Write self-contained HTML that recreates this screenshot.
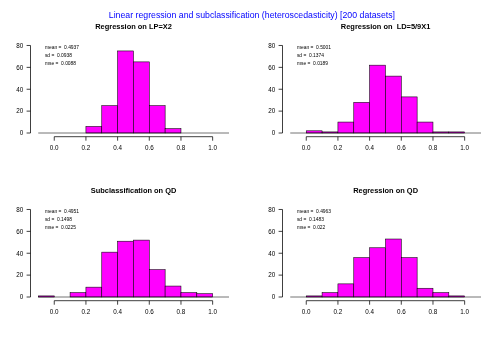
<!DOCTYPE html>
<html><head><meta charset="utf-8"><title>Histograms</title>
<style>html,body{margin:0;padding:0;background:#fff}body{width:504px;height:350px;overflow:hidden;font-family:"Liberation Sans",sans-serif}svg text{font-family:"Liberation Sans",sans-serif}svg{will-change:transform}</style></head>
<body>
<svg width="504" height="350" viewBox="0 0 504 350" style="display:block">
<rect width="504" height="350" fill="#fff"/>
<text x="251.9" y="18.2" text-anchor="middle" font-size="8.73" fill="#0000ff" textLength="286.2" lengthAdjust="spacingAndGlyphs">Linear regression and subclassification (heteroscedasticity) [200 datasets]</text>
<g transform="translate(0,0)">
<text x="133.6" y="28.5" text-anchor="middle" font-size="7.45" font-weight="bold" fill="#000" xml:space="preserve">Regression on LP=X2</text>
<rect x="85.93" y="126.44" width="15.84" height="6.56" fill="#ff00ff" stroke="#000" stroke-width="0.55"/>
<rect x="101.77" y="105.65" width="15.84" height="27.35" fill="#ff00ff" stroke="#000" stroke-width="0.55"/>
<rect x="117.61" y="50.95" width="15.84" height="82.05" fill="#ff00ff" stroke="#000" stroke-width="0.55"/>
<rect x="133.45" y="61.89" width="15.84" height="71.11" fill="#ff00ff" stroke="#000" stroke-width="0.55"/>
<rect x="149.29" y="105.65" width="15.84" height="27.35" fill="#ff00ff" stroke="#000" stroke-width="0.55"/>
<rect x="165.13" y="128.62" width="15.84" height="4.38" fill="#ff00ff" stroke="#000" stroke-width="0.55"/>
<line x1="38.25" y1="133.0" x2="229" y2="133.0" stroke="#000" stroke-width="0.55"/>
<path d="M26.6 133.0H30.5V45.48H26.6" fill="none" stroke="#000" stroke-width="0.75"/>
<line x1="26.6" y1="111.12" x2="30.5" y2="111.12" stroke="#000" stroke-width="0.75"/>
<line x1="26.6" y1="89.24" x2="30.5" y2="89.24" stroke="#000" stroke-width="0.75"/>
<line x1="26.6" y1="67.36" x2="30.5" y2="67.36" stroke="#000" stroke-width="0.75"/>
<text x="23.2" y="135.30" text-anchor="end" font-size="6.3" fill="#000">0</text>
<text x="23.2" y="113.42" text-anchor="end" font-size="6.3" fill="#000">20</text>
<text x="23.2" y="91.54" text-anchor="end" font-size="6.3" fill="#000">40</text>
<text x="23.2" y="69.66" text-anchor="end" font-size="6.3" fill="#000">60</text>
<text x="23.2" y="47.78" text-anchor="end" font-size="6.3" fill="#000">80</text>
<path d="M54.25 140.7V136.7H212.65V140.7" fill="none" stroke="#000" stroke-width="0.75"/>
<line x1="85.93" y1="136.7" x2="85.93" y2="140.7" stroke="#000" stroke-width="0.75"/>
<line x1="117.61" y1="136.7" x2="117.61" y2="140.7" stroke="#000" stroke-width="0.75"/>
<line x1="149.29" y1="136.7" x2="149.29" y2="140.7" stroke="#000" stroke-width="0.75"/>
<line x1="180.97" y1="136.7" x2="180.97" y2="140.7" stroke="#000" stroke-width="0.75"/>
<text x="54.25" y="150.4" text-anchor="middle" font-size="6.3" fill="#000">0.0</text>
<text x="85.93" y="150.4" text-anchor="middle" font-size="6.3" fill="#000">0.2</text>
<text x="117.61" y="150.4" text-anchor="middle" font-size="6.3" fill="#000">0.4</text>
<text x="149.29" y="150.4" text-anchor="middle" font-size="6.3" fill="#000">0.6</text>
<text x="180.97" y="150.4" text-anchor="middle" font-size="6.3" fill="#000">0.8</text>
<text x="212.65" y="150.4" text-anchor="middle" font-size="6.3" fill="#000">1.0</text>
<text x="44.9" y="49.00" font-size="4.9" fill="#000" xml:space="preserve">mean =  0.4937</text>
<text x="44.9" y="56.85" font-size="4.9" fill="#000" xml:space="preserve">sd =  0.0938</text>
<text x="44.9" y="64.70" font-size="4.9" fill="#000" xml:space="preserve">mse =  0.0088</text>
</g>
<g transform="translate(252,0)">
<text x="133.6" y="28.5" text-anchor="middle" font-size="7.45" font-weight="bold" fill="#000" xml:space="preserve">Regression on  LD=5/9X1</text>
<rect x="54.25" y="130.81" width="15.84" height="2.19" fill="#ff00ff" stroke="#000" stroke-width="0.55"/>
<rect x="70.09" y="131.91" width="15.84" height="1.09" fill="#ff00ff" stroke="#000" stroke-width="0.55"/>
<rect x="85.93" y="122.06" width="15.84" height="10.94" fill="#ff00ff" stroke="#000" stroke-width="0.55"/>
<rect x="101.77" y="102.37" width="15.84" height="30.63" fill="#ff00ff" stroke="#000" stroke-width="0.55"/>
<rect x="117.61" y="65.17" width="15.84" height="67.83" fill="#ff00ff" stroke="#000" stroke-width="0.55"/>
<rect x="133.45" y="76.11" width="15.84" height="56.89" fill="#ff00ff" stroke="#000" stroke-width="0.55"/>
<rect x="149.29" y="96.90" width="15.84" height="36.10" fill="#ff00ff" stroke="#000" stroke-width="0.55"/>
<rect x="165.13" y="122.06" width="15.84" height="10.94" fill="#ff00ff" stroke="#000" stroke-width="0.55"/>
<rect x="180.97" y="131.91" width="15.84" height="1.09" fill="#ff00ff" stroke="#000" stroke-width="0.55"/>
<rect x="196.81" y="131.91" width="15.84" height="1.09" fill="#ff00ff" stroke="#000" stroke-width="0.55"/>
<line x1="38.25" y1="133.0" x2="229" y2="133.0" stroke="#000" stroke-width="0.55"/>
<path d="M26.6 133.0H30.5V45.48H26.6" fill="none" stroke="#000" stroke-width="0.75"/>
<line x1="26.6" y1="111.12" x2="30.5" y2="111.12" stroke="#000" stroke-width="0.75"/>
<line x1="26.6" y1="89.24" x2="30.5" y2="89.24" stroke="#000" stroke-width="0.75"/>
<line x1="26.6" y1="67.36" x2="30.5" y2="67.36" stroke="#000" stroke-width="0.75"/>
<text x="23.2" y="135.30" text-anchor="end" font-size="6.3" fill="#000">0</text>
<text x="23.2" y="113.42" text-anchor="end" font-size="6.3" fill="#000">20</text>
<text x="23.2" y="91.54" text-anchor="end" font-size="6.3" fill="#000">40</text>
<text x="23.2" y="69.66" text-anchor="end" font-size="6.3" fill="#000">60</text>
<text x="23.2" y="47.78" text-anchor="end" font-size="6.3" fill="#000">80</text>
<path d="M54.25 140.7V136.7H212.65V140.7" fill="none" stroke="#000" stroke-width="0.75"/>
<line x1="85.93" y1="136.7" x2="85.93" y2="140.7" stroke="#000" stroke-width="0.75"/>
<line x1="117.61" y1="136.7" x2="117.61" y2="140.7" stroke="#000" stroke-width="0.75"/>
<line x1="149.29" y1="136.7" x2="149.29" y2="140.7" stroke="#000" stroke-width="0.75"/>
<line x1="180.97" y1="136.7" x2="180.97" y2="140.7" stroke="#000" stroke-width="0.75"/>
<text x="54.25" y="150.4" text-anchor="middle" font-size="6.3" fill="#000">0.0</text>
<text x="85.93" y="150.4" text-anchor="middle" font-size="6.3" fill="#000">0.2</text>
<text x="117.61" y="150.4" text-anchor="middle" font-size="6.3" fill="#000">0.4</text>
<text x="149.29" y="150.4" text-anchor="middle" font-size="6.3" fill="#000">0.6</text>
<text x="180.97" y="150.4" text-anchor="middle" font-size="6.3" fill="#000">0.8</text>
<text x="212.65" y="150.4" text-anchor="middle" font-size="6.3" fill="#000">1.0</text>
<text x="44.9" y="49.00" font-size="4.9" fill="#000" xml:space="preserve">mean =  0.5001</text>
<text x="44.9" y="56.85" font-size="4.9" fill="#000" xml:space="preserve">sd =  0.1374</text>
<text x="44.9" y="64.70" font-size="4.9" fill="#000" xml:space="preserve">mse =  0.0189</text>
</g>
<g transform="translate(0,164)">
<text x="133.6" y="28.5" text-anchor="middle" font-size="7.45" font-weight="bold" fill="#000" xml:space="preserve">Subclassification on QD</text>
<rect x="38.41" y="131.91" width="15.84" height="1.09" fill="#ff00ff" stroke="#000" stroke-width="0.55"/>
<rect x="70.09" y="128.62" width="15.84" height="4.38" fill="#ff00ff" stroke="#000" stroke-width="0.55"/>
<rect x="85.93" y="123.15" width="15.84" height="9.85" fill="#ff00ff" stroke="#000" stroke-width="0.55"/>
<rect x="101.77" y="88.15" width="15.84" height="44.85" fill="#ff00ff" stroke="#000" stroke-width="0.55"/>
<rect x="117.61" y="77.21" width="15.84" height="55.79" fill="#ff00ff" stroke="#000" stroke-width="0.55"/>
<rect x="133.45" y="76.11" width="15.84" height="56.89" fill="#ff00ff" stroke="#000" stroke-width="0.55"/>
<rect x="149.29" y="105.65" width="15.84" height="27.35" fill="#ff00ff" stroke="#000" stroke-width="0.55"/>
<rect x="165.13" y="122.06" width="15.84" height="10.94" fill="#ff00ff" stroke="#000" stroke-width="0.55"/>
<rect x="180.97" y="128.62" width="15.84" height="4.38" fill="#ff00ff" stroke="#000" stroke-width="0.55"/>
<rect x="196.81" y="129.72" width="15.84" height="3.28" fill="#ff00ff" stroke="#000" stroke-width="0.55"/>
<line x1="38.25" y1="133.0" x2="229" y2="133.0" stroke="#000" stroke-width="0.55"/>
<path d="M26.6 133.0H30.5V45.48H26.6" fill="none" stroke="#000" stroke-width="0.75"/>
<line x1="26.6" y1="111.12" x2="30.5" y2="111.12" stroke="#000" stroke-width="0.75"/>
<line x1="26.6" y1="89.24" x2="30.5" y2="89.24" stroke="#000" stroke-width="0.75"/>
<line x1="26.6" y1="67.36" x2="30.5" y2="67.36" stroke="#000" stroke-width="0.75"/>
<text x="23.2" y="135.30" text-anchor="end" font-size="6.3" fill="#000">0</text>
<text x="23.2" y="113.42" text-anchor="end" font-size="6.3" fill="#000">20</text>
<text x="23.2" y="91.54" text-anchor="end" font-size="6.3" fill="#000">40</text>
<text x="23.2" y="69.66" text-anchor="end" font-size="6.3" fill="#000">60</text>
<text x="23.2" y="47.78" text-anchor="end" font-size="6.3" fill="#000">80</text>
<path d="M54.25 140.7V136.7H212.65V140.7" fill="none" stroke="#000" stroke-width="0.75"/>
<line x1="85.93" y1="136.7" x2="85.93" y2="140.7" stroke="#000" stroke-width="0.75"/>
<line x1="117.61" y1="136.7" x2="117.61" y2="140.7" stroke="#000" stroke-width="0.75"/>
<line x1="149.29" y1="136.7" x2="149.29" y2="140.7" stroke="#000" stroke-width="0.75"/>
<line x1="180.97" y1="136.7" x2="180.97" y2="140.7" stroke="#000" stroke-width="0.75"/>
<text x="54.25" y="150.4" text-anchor="middle" font-size="6.3" fill="#000">0.0</text>
<text x="85.93" y="150.4" text-anchor="middle" font-size="6.3" fill="#000">0.2</text>
<text x="117.61" y="150.4" text-anchor="middle" font-size="6.3" fill="#000">0.4</text>
<text x="149.29" y="150.4" text-anchor="middle" font-size="6.3" fill="#000">0.6</text>
<text x="180.97" y="150.4" text-anchor="middle" font-size="6.3" fill="#000">0.8</text>
<text x="212.65" y="150.4" text-anchor="middle" font-size="6.3" fill="#000">1.0</text>
<text x="44.9" y="49.00" font-size="4.9" fill="#000" xml:space="preserve">mean =  0.4951</text>
<text x="44.9" y="56.85" font-size="4.9" fill="#000" xml:space="preserve">sd =  0.1498</text>
<text x="44.9" y="64.70" font-size="4.9" fill="#000" xml:space="preserve">mse =  0.0225</text>
</g>
<g transform="translate(252,164)">
<text x="133.6" y="28.5" text-anchor="middle" font-size="7.45" font-weight="bold" fill="#000" xml:space="preserve">Regression on QD</text>
<rect x="54.25" y="131.91" width="15.84" height="1.09" fill="#ff00ff" stroke="#000" stroke-width="0.55"/>
<rect x="70.09" y="128.62" width="15.84" height="4.38" fill="#ff00ff" stroke="#000" stroke-width="0.55"/>
<rect x="85.93" y="119.87" width="15.84" height="13.13" fill="#ff00ff" stroke="#000" stroke-width="0.55"/>
<rect x="101.77" y="93.62" width="15.84" height="39.38" fill="#ff00ff" stroke="#000" stroke-width="0.55"/>
<rect x="117.61" y="83.77" width="15.84" height="49.23" fill="#ff00ff" stroke="#000" stroke-width="0.55"/>
<rect x="133.45" y="75.02" width="15.84" height="57.98" fill="#ff00ff" stroke="#000" stroke-width="0.55"/>
<rect x="149.29" y="93.62" width="15.84" height="39.38" fill="#ff00ff" stroke="#000" stroke-width="0.55"/>
<rect x="165.13" y="124.25" width="15.84" height="8.75" fill="#ff00ff" stroke="#000" stroke-width="0.55"/>
<rect x="180.97" y="128.62" width="15.84" height="4.38" fill="#ff00ff" stroke="#000" stroke-width="0.55"/>
<rect x="196.81" y="131.91" width="15.84" height="1.09" fill="#ff00ff" stroke="#000" stroke-width="0.55"/>
<line x1="38.25" y1="133.0" x2="229" y2="133.0" stroke="#000" stroke-width="0.55"/>
<path d="M26.6 133.0H30.5V45.48H26.6" fill="none" stroke="#000" stroke-width="0.75"/>
<line x1="26.6" y1="111.12" x2="30.5" y2="111.12" stroke="#000" stroke-width="0.75"/>
<line x1="26.6" y1="89.24" x2="30.5" y2="89.24" stroke="#000" stroke-width="0.75"/>
<line x1="26.6" y1="67.36" x2="30.5" y2="67.36" stroke="#000" stroke-width="0.75"/>
<text x="23.2" y="135.30" text-anchor="end" font-size="6.3" fill="#000">0</text>
<text x="23.2" y="113.42" text-anchor="end" font-size="6.3" fill="#000">20</text>
<text x="23.2" y="91.54" text-anchor="end" font-size="6.3" fill="#000">40</text>
<text x="23.2" y="69.66" text-anchor="end" font-size="6.3" fill="#000">60</text>
<text x="23.2" y="47.78" text-anchor="end" font-size="6.3" fill="#000">80</text>
<path d="M54.25 140.7V136.7H212.65V140.7" fill="none" stroke="#000" stroke-width="0.75"/>
<line x1="85.93" y1="136.7" x2="85.93" y2="140.7" stroke="#000" stroke-width="0.75"/>
<line x1="117.61" y1="136.7" x2="117.61" y2="140.7" stroke="#000" stroke-width="0.75"/>
<line x1="149.29" y1="136.7" x2="149.29" y2="140.7" stroke="#000" stroke-width="0.75"/>
<line x1="180.97" y1="136.7" x2="180.97" y2="140.7" stroke="#000" stroke-width="0.75"/>
<text x="54.25" y="150.4" text-anchor="middle" font-size="6.3" fill="#000">0.0</text>
<text x="85.93" y="150.4" text-anchor="middle" font-size="6.3" fill="#000">0.2</text>
<text x="117.61" y="150.4" text-anchor="middle" font-size="6.3" fill="#000">0.4</text>
<text x="149.29" y="150.4" text-anchor="middle" font-size="6.3" fill="#000">0.6</text>
<text x="180.97" y="150.4" text-anchor="middle" font-size="6.3" fill="#000">0.8</text>
<text x="212.65" y="150.4" text-anchor="middle" font-size="6.3" fill="#000">1.0</text>
<text x="44.9" y="49.00" font-size="4.9" fill="#000" xml:space="preserve">mean =  0.4963</text>
<text x="44.9" y="56.85" font-size="4.9" fill="#000" xml:space="preserve">sd =  0.1483</text>
<text x="44.9" y="64.70" font-size="4.9" fill="#000" xml:space="preserve">mse =  0.022</text>
</g>
</svg>
</body></html>
